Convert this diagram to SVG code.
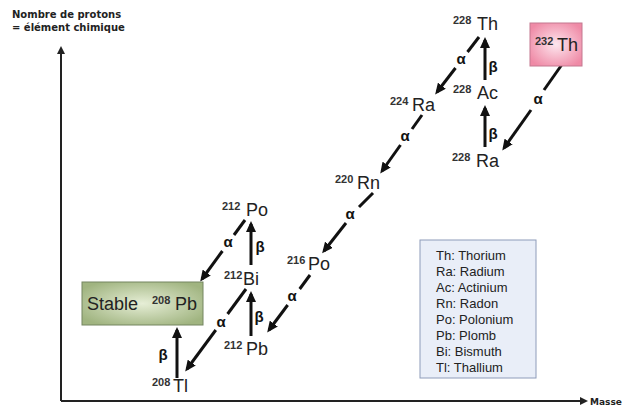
<svg xmlns="http://www.w3.org/2000/svg" width="625" height="407" viewBox="0 0 625 407">
<style>
.sym{font-family:"Liberation Sans",Arial,sans-serif;font-size:18px;fill:#222}
.sup{font-family:"Liberation Sans",Arial,sans-serif;font-size:11px;font-weight:bold;fill:#333}
.gr{font-family:"Liberation Sans",Arial,sans-serif;font-size:15px;font-weight:bold;fill:#111;text-anchor:middle}
.ax{font-family:"DejaVu Sans",sans-serif;font-size:10px;font-weight:bold;fill:#222}
.leg{font-family:"Liberation Sans",Arial,sans-serif;font-size:13px;fill:#222}
.arr{stroke:#111;stroke-width:3;fill:none}
.axis{stroke:#222;stroke-width:2;fill:none}
</style>
<defs>
<marker id="ah" markerUnits="userSpaceOnUse" markerWidth="12" markerHeight="10" refX="8" refY="5" orient="auto">
<path d="M0,0 L11,5 L0,10 z" fill="#111"/>
</marker>
<marker id="axh" markerUnits="userSpaceOnUse" markerWidth="9" markerHeight="8" refX="4" refY="4" orient="auto">
<path d="M0,0 L8,4 L0,8 z" fill="#222"/>
</marker>
<radialGradient id="gGreen" cx="0.5" cy="0.5" r="0.6">
<stop offset="0" stop-color="#e6eed6"/>
<stop offset="1" stop-color="#a0b480"/>
</radialGradient>
<radialGradient id="gPink" cx="0.5" cy="0.5" r="0.6">
<stop offset="0" stop-color="#fde6ee"/>
<stop offset="1" stop-color="#ef8aa6"/>
</radialGradient>
</defs>
<rect width="625" height="407" fill="#fff"/>

<g id="axes">
<line class="axis" x1="61" y1="401" x2="61" y2="50" marker-end="url(#axh)"/>
<line class="axis" x1="61" y1="401" x2="584" y2="401" marker-end="url(#axh)"/>
<text class="ax" x="12" y="18">Nombre de protons</text>
<text class="ax" x="12" y="31">= élément chimique</text>
<text class="ax" x="590" y="405" style="font-size:9px">Masse</text>
</g>

<g id="connectors">
<line class="arr" x1="485" y1="80" x2="485" y2="40" marker-end="url(#ah)"/>
<text class="gr" x="493" y="72">β</text>
<line class="arr" x1="485" y1="147" x2="485" y2="108" marker-end="url(#ah)"/>
<text class="gr" x="493" y="139">β</text>
<line class="arr" x1="251" y1="265" x2="251" y2="224" marker-end="url(#ah)"/>
<text class="gr" x="260" y="252">β</text>
<line class="arr" x1="251" y1="336" x2="251" y2="294" marker-end="url(#ah)"/>
<text class="gr" x="259" y="322">β</text>
<line class="arr" x1="177" y1="378" x2="177" y2="330" marker-end="url(#ah)"/>
<text class="gr" x="163" y="360">β</text>
<line class="arr" x1="479" y1="37" x2="467.5" y2="52"/>
<line class="arr" x1="455.5" y1="68" x2="437" y2="92" marker-end="url(#ah)"/>
<text class="gr" x="461" y="64">α</text>
<line class="arr" x1="563" y1="63" x2="544" y2="90"/>
<line class="arr" x1="531" y1="110" x2="504" y2="148" marker-end="url(#ah)"/>
<text class="gr" x="538" y="104">α</text>
<line class="arr" x1="422" y1="115" x2="412" y2="129"/>
<line class="arr" x1="400.5" y1="145" x2="382" y2="171" marker-end="url(#ah)"/>
<text class="gr" x="405" y="141">α</text>
<line class="arr" x1="373" y1="193" x2="359" y2="207"/>
<line class="arr" x1="346" y1="223" x2="324" y2="251" marker-end="url(#ah)"/>
<text class="gr" x="350" y="219">α</text>
<line class="arr" x1="245" y1="220" x2="234" y2="235"/>
<line class="arr" x1="222.4" y1="251" x2="202" y2="279" marker-end="url(#ah)"/>
<text class="gr" x="228" y="247">α</text>
<line class="arr" x1="246" y1="289" x2="227.6" y2="314"/>
<line class="arr" x1="215.8" y1="330" x2="187" y2="369" marker-end="url(#ah)"/>
<text class="gr" x="221" y="327">α</text>
<line class="arr" x1="310" y1="275" x2="299.7" y2="289"/>
<line class="arr" x1="287.7" y1="305" x2="269" y2="330" marker-end="url(#ah)"/>
<text class="gr" x="292" y="301">α</text>
</g>

<g id="th232">
<rect x="530" y="23" width="52" height="43" fill="url(#gPink)" stroke="#c47890" stroke-width="1"/>
<text class="sup" x="535" y="45">232</text>
<text class="sym" x="557" y="51">Th</text>
</g>
<g id="ra228">
<text class="sup" x="452" y="161">228</text>
<text class="sym" x="476" y="167">Ra</text>
</g>
<g id="ac228">
<text class="sup" x="453" y="93">228</text>
<text class="sym" x="477" y="99">Ac</text>
</g>
<g id="th228">
<text class="sup" x="453" y="24">228</text>
<text class="sym" x="477" y="30">Th</text>
</g>
<g id="ra224">
<text class="sup" x="390" y="105">224</text>
<text class="sym" x="412" y="111">Ra</text>
</g>
<g id="rn220">
<text class="sup" x="335" y="183">220</text>
<text class="sym" x="357" y="189">Rn</text>
</g>
<g id="po216">
<text class="sup" x="287" y="264">216</text>
<text class="sym" x="308" y="270">Po</text>
</g>
<g id="pb212">
<text class="sup" x="224" y="349">212</text>
<text class="sym" x="246" y="355">Pb</text>
</g>
<g id="bi212">
<text class="sup" x="224" y="279">212</text>
<text class="sym" x="243" y="285">Bi</text>
</g>
<g id="po212">
<text class="sup" x="222" y="210">212</text>
<text class="sym" x="246" y="216">Po</text>
</g>
<g id="tl208">
<text class="sup" x="152" y="386">208</text>
<text class="sym" x="173" y="392">Tl</text>
</g>
<g id="pb208">
<rect x="82" y="282" width="121" height="43" fill="url(#gGreen)" stroke="#758660" stroke-width="1"/>
<text class="sym" x="87" y="310">Stable</text>
<text class="sup" x="152" y="304">208</text>
<text class="sym" x="175" y="310">Pb</text>
</g>
<g id="legend">
<rect x="420" y="240" width="116" height="138" fill="#e9eef8" stroke="#8e9cba" stroke-width="1"/>
<text class="leg" x="436" y="260">Th: Thorium</text>
<text class="leg" x="436" y="276">Ra: Radium</text>
<text class="leg" x="436" y="292">Ac: Actinium</text>
<text class="leg" x="436" y="308">Rn: Radon</text>
<text class="leg" x="436" y="324">Po: Polonium</text>
<text class="leg" x="436" y="340">Pb: Plomb</text>
<text class="leg" x="436" y="356">Bi: Bismuth</text>
<text class="leg" x="436" y="372">Tl: Thallium</text>
</g>
</svg>
